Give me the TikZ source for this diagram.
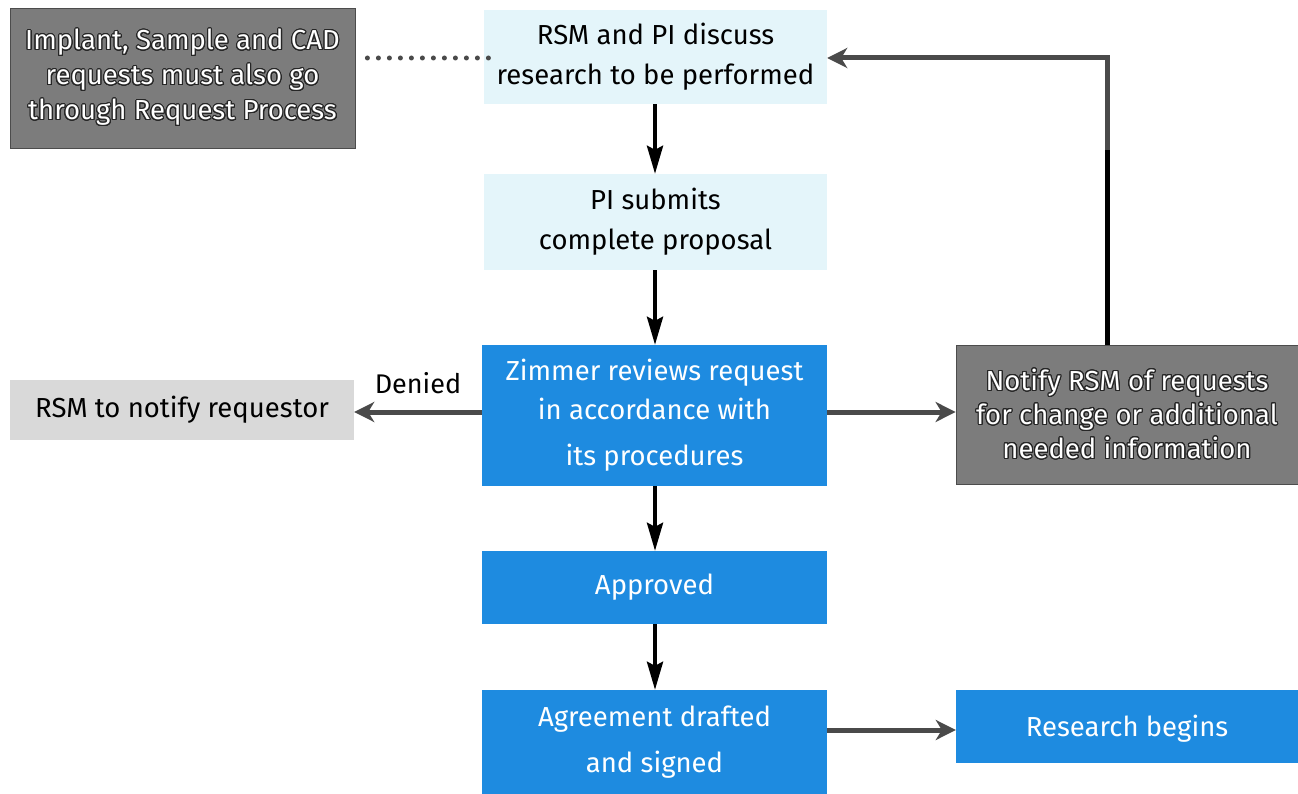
\documentclass[tikz,border=0pt]{standalone}
\usepackage{fontspec}
\setmainfont{Fira Sans}
\usepackage{contour}
\contourlength{1.1pt}
\contournumber{24}
\usetikzlibrary{arrows.meta}
\definecolor{zblue}{HTML}{1E8BE0}
\definecolor{zcyan}{HTML}{E4F5FA}
\definecolor{zgray}{HTML}{7C7C7C}
\definecolor{zlgray}{HTML}{D9D9D9}
\definecolor{zarrow}{HTML}{4A4A4A}
\newcommand{\ol}[1]{\contour{black!85}{#1}}
\begin{document}
\begin{tikzpicture}[x=1pt,y=-1pt,
  box/.style={rectangle, inner sep=0pt, align=center, font=\fontsize{27.5}{40}\selectfont},
  cyanbox/.style={box, fill=zcyan, text=black},
  bluebox/.style={box, fill=zblue, text=white},
  graybox/.style={box, fill=zgray, draw=black!70, line width=0.8pt, text=white},
  lgraybox/.style={box, fill=zlgray, text=black},
  varrow/.style={-{Stealth[length=28pt,width=16pt,inset=4pt]}, line width=4pt, black},
  harrow/.style={-{Stealth[length=20pt,width=20pt,inset=6pt]}, line width=5pt, zarrow},
  dotline/.style={line width=5pt, zarrow, dash pattern=on 0pt off 11pt, line cap=round}
]
\useasboundingbox (0,0) rectangle (1298,794);

\node[graybox, minimum width=345pt, minimum height=140pt] (impl) at (182.5,78)
  {\ol{Implant, Sample and CAD}\\[-5pt] \ol{requests must also go}\\[-5pt] \ol{through Request Process}};
\node[cyanbox, minimum width=343pt, minimum height=94pt] (disc) at (655.5,57)
  {RSM and PI discuss\\ research to be performed};
\node[cyanbox, minimum width=343pt, minimum height=96pt] (subm) at (655.5,222)
  {PI submits\\ complete proposal};
\node[bluebox, minimum width=345pt, minimum height=141pt] (rev) at (654.5,415.5)
  {Zimmer reviews request\\[-1pt] in accordance with\\[6pt] its procedures};
\node[lgraybox, minimum width=344pt, minimum height=60pt] (deny) at (182,410)
  {RSM to notify requestor};
\node[graybox, minimum width=342pt, minimum height=139pt] (noti) at (1127,414.5)
  {\ol{Notify RSM of requests}\\[-6pt] \ol{for change or additional}\\[-6pt] \ol{needed information}};
\node[bluebox, minimum width=345pt, minimum height=73pt] (appr) at (654.5,587.5)
  {Approved};
\node[bluebox, minimum width=345pt, minimum height=104pt] (agr) at (654.5,742)
  {Agreement drafted\\[6pt] and signed};
\node[bluebox, minimum width=342pt, minimum height=73pt, text depth=0pt] (res) at (1127,726.5)
  {\raisebox{2pt}{Research begins}};

\draw[dotline] (impl.east |- 0,58) ++(12,0) coordinate (d1) -- ++(125,0) coordinate (d2);
\draw[varrow] (disc.south -| 655,0) -- (subm.north -| 655,0);
\draw[varrow] (subm.south -| 655,0) -- (rev.north -| 655,0);
\draw[varrow] (rev.south -| 655,0) -- (appr.north -| 655,0);
\draw[varrow] (appr.south -| 655,0) -- (agr.north -| 655,0);
\draw[harrow] (rev.west |- 0,412) -- node[above=12pt, text=black, font=\fontsize{27}{30}\selectfont] (den) {Denied} (deny.east |- 0,412);
\draw[harrow] (rev.east |- 0,412) -- (noti.west |- 0,412);
\draw[harrow] (agr.east |- 0,730) -- (res.west |- 0,730);
\coordinate (c1) at (1107,150);
\coordinate (c2) at (1107,58);
\draw[line width=5pt, black] (noti.north -| c1) -- (c1);
\draw[harrow] (c1) -- (c2) -- (disc.east |- c2);
\end{tikzpicture}
\end{document}
